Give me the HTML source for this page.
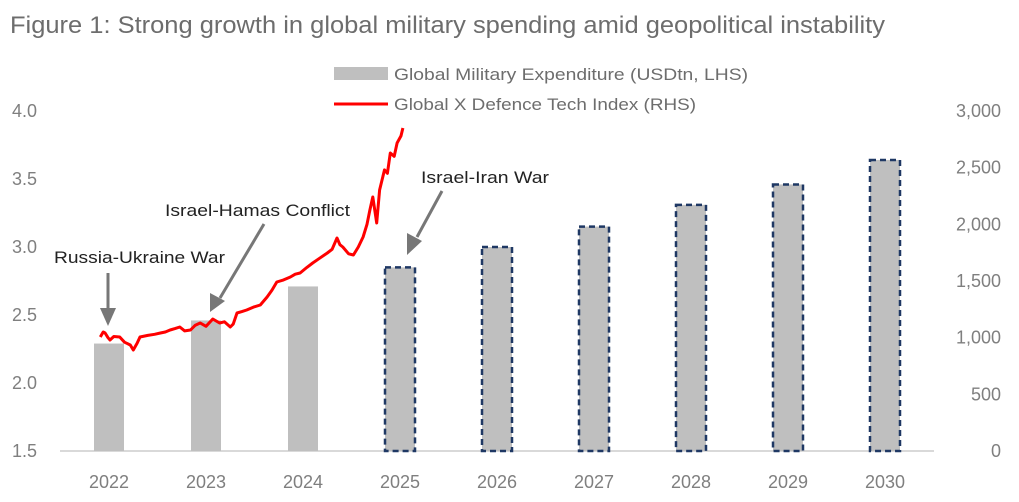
<!DOCTYPE html>
<html><head><meta charset="utf-8"><style>
html,body{margin:0;padding:0;background:#fff;}
svg{display:block;font-family:"Liberation Sans",sans-serif;}
</style></head><body>
<svg id="chart" width="1019" height="502" viewBox="0 0 1019 502">
<text x="10" y="33" font-size="24" fill="#6d6d6d" textLength="875" lengthAdjust="spacingAndGlyphs">Figure 1: Strong growth in global military spending amid geopolitical instability</text>
<g>
<rect x="334" y="67" width="54" height="13" fill="#bfbfbf"/>
<text x="394" y="80" font-size="17" fill="#6d6d6d" textLength="354" lengthAdjust="spacingAndGlyphs">Global Military Expenditure (USDtn, LHS)</text>
<line x1="334" y1="104" x2="388" y2="104" stroke="#ff0000" stroke-width="3"/>
<text x="394" y="110" font-size="17" fill="#6d6d6d" textLength="302" lengthAdjust="spacingAndGlyphs">Global X Defence Tech Index (RHS)</text>
</g>
<g id="axes"></g>
<g id="bars"></g>
<g id="line"></g>
<g id="annot">
<text x="54" y="263" font-size="17" fill="#222" textLength="171" lengthAdjust="spacingAndGlyphs">Russia-Ukraine War</text>
<line x1="108" y1="273" x2="108" y2="308" stroke="#777" stroke-width="3"/>
<polygon points="100,308 116,308 108,326" fill="#777"/>
<text x="165" y="216" font-size="17" fill="#222" textLength="185" lengthAdjust="spacingAndGlyphs">Israel-Hamas Conflict</text>
<line x1="264" y1="224" x2="220" y2="298" stroke="#777" stroke-width="3"/>
<polygon points="210,293 225,301 210,312" fill="#777"/>
<text x="421" y="183" font-size="17" fill="#222" textLength="128" lengthAdjust="spacingAndGlyphs">Israel-Iran War</text>
<line x1="442" y1="191" x2="417" y2="237" stroke="#777" stroke-width="3"/>
<polygon points="407,233 422,241 407,255" fill="#777"/>
</g>
</svg>
<script>
const years=["2022","2023","2024","2025","2026","2027","2028","2029","2030"];
const expenditure=[2.29,2.46,2.71,2.85,3.0,3.15,3.31,3.46,3.64];
const projected=[false,false,false,true,true,true,true,true,true];
const leftTicks=["1.5","2.0","2.5","3.0","3.5","4.0"];
const rightTicks=["0","500","1,000","1,500","2,000","2,500","3,000"];
// index series: time in category-index units (0 = 2022), value RHS
const idxTime=[-0.09,-0.06,-0.04,-0.01,0.01,0.05,0.11,0.16,0.22,0.25,0.29,0.32,0.40,0.47,0.53,0.58,0.63,0.68,0.73,0.78,0.84,0.89,0.94,1.00,1.07,1.14,1.19,1.25,1.28,1.32,1.37,1.42,1.49,1.56,1.63,1.68,1.73,1.80,1.87,1.92,1.97,2.04,2.10,2.17,2.25,2.30,2.35,2.38,2.41,2.47,2.52,2.57,2.62,2.66,2.69,2.72,2.76,2.79,2.84,2.87,2.90,2.94,2.97,3.01,3.03];
const idxValue=[1006,1050,1041,1000,979,1010,1006,960,935,891,950,1006,1020,1030,1041,1050,1068,1080,1094,1060,1068,1110,1129,1100,1165,1129,1140,1094,1120,1218,1230,1244,1270,1288,1359,1420,1491,1510,1535,1560,1571,1620,1659,1700,1747,1780,1879,1820,1800,1740,1729,1800,1888,2000,2127,2241,2012,2303,2480,2450,2629,2600,2718,2780,2850];
const NS="http://www.w3.org/2000/svg";
const x0=109,step=97,yBase=451;
const xs=i=>x0+i*step;
const yL=v=>yBase-(v-1.5)/2.5*340;
const yR=v=>yBase-v/3000*340;
function mk(tag,attrs,parent){const e=document.createElementNS(NS,tag);for(const k in attrs)e.setAttribute(k,attrs[k]);parent.appendChild(e);return e;}
const axes=document.getElementById('axes');
const base=mk('line',{x1:60,y1:yBase,x2:934,y2:yBase,stroke:'#d9d9d9','stroke-width':2},axes);


leftTicks.forEach(t=>{const e=mk('text',{x:12,y:yL(parseFloat(t))+6,'font-size':18,fill:'#7f7f7f'},axes);e.textContent=t;

});
rightTicks.forEach(t=>{const v=parseFloat(t.replace(',',''));const e=mk('text',{x:1001,y:yR(v)+6,'font-size':18,fill:'#7f7f7f','text-anchor':'end'},axes);e.textContent=t;

});
years.forEach((y,i)=>{const e=mk('text',{x:xs(i),y:488,'font-size':18,fill:'#7f7f7f','text-anchor':'middle'},axes);e.textContent=y;

});
const bars=document.getElementById('bars');
expenditure.forEach((v,i)=>{const w=30;const a={x:xs(i)-w/2,y:yL(v),width:w,height:yBase-yL(v),fill:'#bfbfbf'};
if(projected[i]){a.stroke='#1f3864';a['stroke-width']=2.5;a['stroke-dasharray']='6,4';}
const r=mk('rect',a,bars);

});
const line=document.getElementById('line');
const d=idxTime.map((t,i)=>(i?'L':'M')+xs(t).toFixed(1)+','+yR(idxValue[i]).toFixed(1)).join(' ');
const p=mk('path',{d:d,fill:'none',stroke:'#ff0000','stroke-width':3,'stroke-linejoin':'round'},line);


</script>
</body></html>
